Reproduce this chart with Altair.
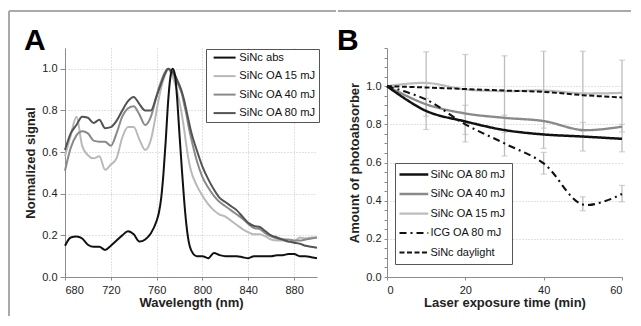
import altair as alt
import pandas as pd

FONT = "Liberation Sans"

# ---------------- Panel A data ----------------
wavelength = [680, 685, 690, 695, 700, 705, 710, 715, 720, 725, 730, 735, 740, 745, 750, 755, 760,
              762, 764, 766, 768, 770, 772, 774, 776, 778, 780, 782, 784, 786, 788, 790,
              795, 800, 805, 810, 815, 820, 825, 830, 835, 840, 845, 850, 855, 860, 865, 870,
              875, 880, 885, 890, 895, 900]
sinc_abs = [0.15, 0.19, 0.195, 0.185, 0.155, 0.145, 0.145, 0.13, 0.15, 0.175, 0.20, 0.22, 0.205, 0.17, 0.18, 0.21, 0.27,
            0.31, 0.38, 0.50, 0.66, 0.84, 0.96, 1.0, 0.97, 0.85, 0.68, 0.52, 0.37, 0.25, 0.17, 0.13,
            0.10, 0.10, 0.09, 0.115, 0.105, 0.10, 0.10, 0.10, 0.095, 0.09, 0.10, 0.10, 0.10, 0.10, 0.105, 0.105,
            0.11, 0.11, 0.10, 0.10, 0.095, 0.09]
sinc_oa15 = [0.58, 0.68, 0.77, 0.63, 0.585, 0.57, 0.58, 0.515, 0.54, 0.57, 0.67, 0.72, 0.72, 0.66, 0.61, 0.66, 0.80,
             0.86, 0.91, 0.95, 0.98, 1.0, 0.985, 0.96, 0.93, 0.89, 0.84, 0.78, 0.71, 0.63, 0.56, 0.51,
             0.44, 0.39, 0.35, 0.32, 0.30, 0.29, 0.27, 0.25, 0.23, 0.215, 0.205, 0.205, 0.195, 0.18, 0.175, 0.175,
             0.17, 0.17, 0.19, 0.185, 0.19, 0.19]
sinc_oa40 = [0.51, 0.62, 0.68, 0.70, 0.69, 0.655, 0.65, 0.65, 0.63, 0.69, 0.77, 0.81, 0.82, 0.78, 0.73, 0.77, 0.87,
             0.91, 0.94, 0.97, 0.99, 1.0, 0.99, 0.975, 0.96, 0.935, 0.91, 0.88, 0.83, 0.78, 0.72, 0.67,
             0.56, 0.48, 0.43, 0.39, 0.36, 0.34, 0.32, 0.30, 0.28, 0.255, 0.235, 0.23, 0.21, 0.195, 0.185, 0.18,
             0.18, 0.175, 0.175, 0.18, 0.185, 0.19]
sinc_oa80 = [0.61, 0.69, 0.73, 0.77, 0.765, 0.74, 0.755, 0.715, 0.72, 0.75, 0.80, 0.845, 0.865, 0.83, 0.80, 0.80, 0.87,
             0.90, 0.93, 0.96, 0.985, 1.0, 0.995, 0.985, 0.97, 0.945, 0.92, 0.89, 0.85, 0.80, 0.75, 0.70,
             0.61, 0.53, 0.47, 0.42, 0.38, 0.36, 0.34, 0.32, 0.29, 0.26, 0.245, 0.24, 0.22, 0.20, 0.19, 0.18,
             0.17, 0.165, 0.16, 0.15, 0.145, 0.14]

a_series = ["SiNc abs", "SiNc OA 15 mJ", "SiNc OA 40 mJ", "SiNc OA 80 mJ"]
a_colors = ["#111111", "#b9b9b9", "#8a8a8a", "#535353"]
a_ticks_x = [680, 720, 760, 800, 840, 880]
a_ticks_y = [0.0, 0.2, 0.4, 0.6, 0.8, 1.0]

# ---------------- Panel B data ----------------
time_min = [0, 10, 20, 30, 40, 50, 60]
b_oa80 = [1.0, 0.87, 0.815, 0.77, 0.747, 0.736, 0.724]
b_oa40 = [1.0, 0.905, 0.857, 0.834, 0.817, 0.77, 0.788]
b_oa15 = [1.0, 1.017, 0.983, 0.974, 0.977, 0.962, 0.965]
b_icg = [1.0, 0.93, 0.80, 0.70, 0.595, 0.38, 0.435]
b_day = [1.0, 0.993, 0.985, 0.977, 0.970, 0.953, 0.941]

err_time = [10, 10, 20, 20, 30, 30, 40, 40, 40, 50, 50, 50, 60, 60, 60]
err_low = [0.773, 0.843, 0.708, 0.747, 0.634, 0.757, 0.674, 0.78, 0.539, 0.66, 0.764, 0.347, 0.656, 0.76, 0.394]
err_high = [1.18, 0.936, 1.166, 0.90, 1.159, 0.848, 1.183, 0.817, 0.653, 1.183, 0.81, 0.42, 1.136, 0.80, 0.48]

b_series = ["SiNc OA 80 mJ", "SiNc OA 40 mJ", "SiNc OA 15 mJ", "ICG OA 80 mJ", "SiNc daylight"]
b_colors = ["#111111", "#8a8a8a", "#bdbdbd", "#111111", "#111111"]
b_dashes = [[1, 0], [1, 0], [1, 0], [7, 4, 2, 4], [5, 2.5]]
b_widths = [2.5, 2.0, 2.5, 2.2, 2.2]
b_ticks_x = [0, 20, 40, 60]
b_ticks_y = [round(i * 0.05, 2) for i in range(25)]

# ---------------- build tables ----------------
a_rows = []
for name, vals in [("SiNc OA 15 mJ", sinc_oa15), ("SiNc OA 40 mJ", sinc_oa40),
                   ("SiNc OA 80 mJ", sinc_oa80), ("SiNc abs", sinc_abs)]:
    for w, v in zip(wavelength, vals):
        a_rows.append({"wl": w, "value": v, "series": name})
a_df = pd.DataFrame(a_rows)

b_rows = []
for name, vals in [("SiNc OA 15 mJ", b_oa15), ("SiNc OA 40 mJ", b_oa40), ("SiNc daylight", b_day),
                   ("ICG OA 80 mJ", b_icg), ("SiNc OA 80 mJ", b_oa80)]:
    for t, v in zip(time_min, vals):
        b_rows.append({"t": t, "value": v, "series": name})
b_df = pd.DataFrame(b_rows)
err_df = pd.DataFrame({"t": err_time, "lo": err_low, "hi": err_high})

one = alt.Data(values=[{"k": 0}])
FRAME = "#a9a9a9"
GRID = "#c4c4c4"

# ---------------- Panel A ----------------
WA, HA = 252, 229
xa = alt.Scale(domain=[680, 900], nice=False)
ya = alt.Scale(domain=[0, 1.1], nice=False)

frame_top_a = alt.Chart(one).mark_rule(color=FRAME, strokeWidth=2).encode(
    x=alt.value(-56), x2=alt.value(271), y=alt.value(-37))
frame_left = alt.Chart(one).mark_rule(color=FRAME, strokeWidth=2).encode(
    x=alt.value(-56), y=alt.value(-37), y2=alt.value(268))
letter_a = alt.Chart(one).mark_text(fontSize=30, fontWeight="bold", align="left",
                                    baseline="alphabetic", font=FONT, color="#000").encode(
    x=alt.value(-41), y=alt.value(2), text=alt.value("A"))

legend_a = alt.Legend(title=None, orient="none", legendX=141, legendY=1,
                      symbolType="M-2.75,0H2.75", symbolSize=64, symbolStrokeWidth=2,
                      labelFontSize=11.2, labelFont=FONT, labelColor="#111",
                      padding=3, rowPadding=6.5, symbolOffset=10, labelOffset=9,
                      strokeColor="#555", fillColor="white")

lines_a = alt.Chart(a_df).mark_line(strokeWidth=2, interpolate="monotone").encode(
    x=alt.X("wl:Q", scale=xa, axis=alt.Axis(values=a_ticks_x, title="Wavelength (nm)",
                                             grid=True, gridDash=[1, 2], gridColor=GRID,
                                             tickSize=3, labelPadding=4, titlePadding=1)),
    y=alt.Y("value:Q", scale=ya, axis=alt.Axis(values=a_ticks_y, format=".1f", title="Normalized signal",
                                                grid=True, gridDash=[1, 2], gridColor=GRID,
                                                tickSize=5, labelPadding=3, titlePadding=4)),
    color=alt.Color("series:N", scale=alt.Scale(domain=a_series, range=a_colors), legend=legend_a),
)

panel_a = alt.layer(frame_top_a, frame_left, letter_a, lines_a).properties(width=WA, height=HA)

# ---------------- Panel B ----------------
WB, HB = 235, 229
xb = alt.Scale(domain=[0, 60], nice=False)
yb = alt.Scale(domain=[0, 1.2], nice=False)

major_test = "round(datum.value * 100) % 20 == 0 && datum.value < 1.01"
xaxis_b = alt.Axis(values=b_ticks_x, title="Laser exposure time (min)",
                   grid=False, tickSize=3, labelPadding=4, titlePadding=1)
yaxis_b = alt.Axis(values=b_ticks_y, title="Amount of photoabsorber",
                   labelExpr=f"({major_test}) ? format(datum.value, '.1f') : ''",
                   grid=True, gridDash=[1, 2], gridColor=GRID,
                   gridOpacity={"condition": {"test": f"{major_test} && datum.value > 0.01", "value": 1},
                                "value": 0},
                   tickSize=3, labelPadding=3, titlePadding=4)

frame_top_b = alt.Chart(one).mark_rule(color=FRAME, strokeWidth=2).encode(
    x=alt.value(-49), x2=alt.value(244), y=alt.value(-37))
letter_b = alt.Chart(one).mark_text(fontSize=30, fontWeight="bold", align="left",
                                    baseline="alphabetic", font=FONT, color="#000").encode(
    x=alt.value(-50), y=alt.value(2), text=alt.value("B"))

ERR = "#bdbdbd"
err_rule = alt.Chart(err_df).mark_rule(color=ERR, strokeWidth=1.3).encode(
    x=alt.X("t:Q", scale=xb, axis=xaxis_b), y=alt.Y("lo:Q", scale=yb, axis=yaxis_b), y2="hi:Q")
err_cap_lo = alt.Chart(err_df).mark_tick(color=ERR, orient="horizontal", size=6, thickness=1.2).encode(
    x=alt.X("t:Q", scale=xb, axis=xaxis_b), y=alt.Y("lo:Q", scale=yb, axis=yaxis_b))
err_cap_hi = alt.Chart(err_df).mark_tick(color=ERR, orient="horizontal", size=6, thickness=1.2).encode(
    x=alt.X("t:Q", scale=xb, axis=xaxis_b), y=alt.Y("hi:Q", scale=yb, axis=yaxis_b))

legend_b = alt.Legend(title=None, orient="none", legendX=8, legendY=115,
                      symbolType="M-3.6,0H3.6", symbolSize=64, symbolStrokeWidth=2.5,
                      labelFontSize=11, labelFont=FONT, labelColor="#111",
                      padding=6, rowPadding=7.5, symbolOffset=7.4, labelOffset=11,
                      strokeColor="#555", fillColor="white")

lines_b = alt.Chart(b_df).mark_line(interpolate="catmull-rom").encode(
    x=alt.X("t:Q", scale=xb, axis=xaxis_b),
    y=alt.Y("value:Q", scale=yb, axis=yaxis_b),
    color=alt.Color("series:N", scale=alt.Scale(domain=b_series, range=b_colors), legend=legend_b),
    strokeDash=alt.StrokeDash("series:N", scale=alt.Scale(domain=b_series, range=b_dashes), legend=legend_b),
    strokeWidth=alt.StrokeWidth("series:N", scale=alt.Scale(domain=b_series, range=b_widths), legend=None),
)

panel_b = alt.layer(frame_top_b, letter_b, err_rule, err_cap_lo, err_cap_hi, lines_b).properties(
    width=WB, height=HB)

chart = alt.hconcat(panel_a, panel_b, spacing=0).resolve_scale(
    color="independent", strokeDash="independent", strokeWidth="independent"
).properties(
    padding={"left": 0, "top": 2, "right": 0, "bottom": 0},
    background="white",
).configure(font=FONT).configure_view(stroke=None).configure_axis(
    domainColor="#8c8c8c", tickColor="#8c8c8c", labelFontSize=11, labelColor="#222",
    labelFont=FONT, titleFont=FONT, titleFontSize=13, titleFontWeight="bold", titleColor="#222",
)

chart.save("out.html", embed_options={"renderer": "svg", "actions": False})
